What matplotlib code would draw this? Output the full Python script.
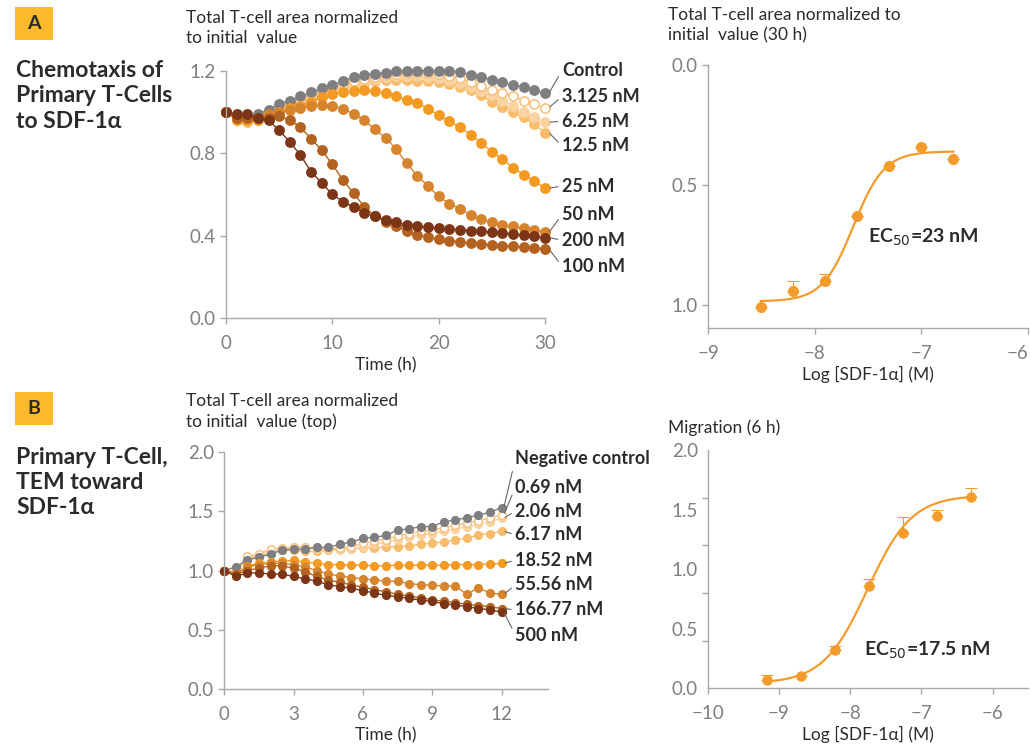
import matplotlib
matplotlib.use('Agg')
import matplotlib.pyplot as plt
import numpy as np

plt.rcParams['font.family'] = ['Lato', 'DejaVu Sans']

# ---- Panel A: chemotaxis time course (hours 0..30) ----
time_a = list(range(31))
a_labels = ['Control', '3.125 nM', '6.25 nM', '12.5 nM', '25 nM', '50 nM', '200 nM', '100 nM']
a_series = {
    'Control':  [1.00, 0.97, 0.97, 0.99, 1.01, 1.04, 1.055, 1.075, 1.095, 1.115, 1.13, 1.15, 1.17, 1.18, 1.185, 1.19,
                 1.20, 1.20, 1.20, 1.20, 1.20, 1.20, 1.195, 1.18, 1.17, 1.155, 1.145, 1.13, 1.12, 1.105, 1.09],
    '3.125 nM': [1.00, 0.97, 0.96, 0.98, 1.00, 1.02, 1.04, 1.06, 1.08, 1.10, 1.12, 1.135, 1.15, 1.16, 1.17, 1.18,
                 1.185, 1.19, 1.19, 1.19, 1.185, 1.175, 1.165, 1.145, 1.125, 1.105, 1.09, 1.075, 1.055, 1.04, 1.02],
    '6.25 nM':  [1.00, 0.96, 0.96, 0.97, 0.99, 1.01, 1.03, 1.05, 1.07, 1.09, 1.11, 1.13, 1.14, 1.15, 1.16, 1.17,
                 1.175, 1.175, 1.175, 1.17, 1.165, 1.155, 1.14, 1.12, 1.10, 1.08, 1.055, 1.03, 1.00, 0.975, 0.95],
    '12.5 nM':  [1.00, 0.96, 0.95, 0.96, 0.98, 1.00, 1.02, 1.04, 1.06, 1.08, 1.10, 1.115, 1.13, 1.14, 1.15, 1.155,
                 1.155, 1.155, 1.15, 1.15, 1.145, 1.135, 1.12, 1.105, 1.08, 1.05, 1.025, 1.00, 0.975, 0.94, 0.90],
    '25 nM':    [1.00, 0.96, 0.96, 0.96, 0.98, 1.00, 1.02, 1.03, 1.05, 1.07, 1.085, 1.095, 1.10, 1.105, 1.10, 1.09,
                 1.075, 1.06, 1.045, 1.015, 0.985, 0.955, 0.925, 0.89, 0.85, 0.805, 0.77, 0.73, 0.695, 0.665, 0.63],
    '50 nM':    [1.00, 0.97, 0.97, 0.97, 0.99, 1.00, 1.01, 1.02, 1.03, 1.035, 1.03, 1.015, 0.99, 0.96, 0.915, 0.875,
                 0.82, 0.75, 0.69, 0.64, 0.59, 0.555, 0.53, 0.50, 0.48, 0.465, 0.452, 0.444, 0.436, 0.428, 0.415],
    '200 nM':   [1.00, 0.99, 0.99, 0.97, 0.96, 0.91, 0.855, 0.79, 0.71, 0.655, 0.60, 0.565, 0.538, 0.51, 0.493, 0.476,
                 0.464, 0.452, 0.444, 0.44, 0.436, 0.432, 0.428, 0.424, 0.42, 0.416, 0.412, 0.408, 0.402, 0.396, 0.39],
    '100 nM':   [1.00, 0.97, 0.97, 0.97, 0.97, 0.98, 0.96, 0.925, 0.87, 0.815, 0.745, 0.67, 0.605, 0.54, 0.495, 0.468,
                 0.447, 0.42, 0.404, 0.392, 0.383, 0.375, 0.37, 0.365, 0.36, 0.355, 0.35, 0.347, 0.344, 0.34, 0.336],
}
a_label_y = [1.20, 1.075, 0.955, 0.835, 0.64, 0.50, 0.378, 0.252]

# ---- Panel A: dose response at 30 h ----
a_logc = [-8.505, -8.204, -7.903, -7.602, -7.301, -7.000, -6.699]
a_resp = [1.007, 0.94, 0.90, 0.63, 0.42, 0.34, 0.39]
a_err = [0.0, 0.04, 0.03, 0.0, 0.0, 0.0, 0.0]
a_fit = dict(top=0.36, bottom=0.985, logec50=-7.638, hill=3.0)

# ---- Panel B: TEM time course (hours 0..12) ----
time_b = [i * 0.5 for i in range(25)]
b_labels = ['Negative control', '0.69 nM', '2.06 nM', '6.17 nM', '18.52 nM', '55.56 nM', '166.77 nM', '500 nM']
b_series = {
    'Negative control': [1.00, 1.03, 1.09, 1.11, 1.14, 1.17, 1.18, 1.18, 1.195, 1.195, 1.22, 1.24, 1.27, 1.28, 1.295,
                         1.34, 1.35, 1.37, 1.37, 1.41, 1.425, 1.445, 1.465, 1.49, 1.53],
    '0.69 nM':   [1.00, 1.00, 1.12, 1.14, 1.18, 1.19, 1.20, 1.20, 1.19, 1.18, 1.19, 1.20, 1.23, 1.25, 1.26, 1.29, 1.31,
                  1.33, 1.34, 1.36, 1.38, 1.40, 1.42, 1.44, 1.47],
    '2.06 nM':   [1.00, 0.99, 1.11, 1.13, 1.17, 1.18, 1.19, 1.19, 1.18, 1.17, 1.17, 1.18, 1.20, 1.22, 1.24, 1.26, 1.28,
                  1.30, 1.31, 1.33, 1.35, 1.37, 1.39, 1.41, 1.44],
    '6.17 nM':   [1.00, 0.99, 1.10, 1.12, 1.15, 1.17, 1.17, 1.16, 1.16, 1.17, 1.18, 1.18, 1.19, 1.19, 1.20, 1.20, 1.21,
                  1.22, 1.23, 1.24, 1.26, 1.27, 1.30, 1.31, 1.33],
    '18.52 nM':  [1.00, 0.97, 1.04, 1.06, 1.07, 1.08, 1.085, 1.07, 1.06, 1.05, 1.05, 1.045, 1.045, 1.04, 1.04, 1.045,
                  1.045, 1.045, 1.045, 1.045, 1.05, 1.05, 1.05, 1.055, 1.06],
    '55.56 nM':  [1.00, 0.97, 1.03, 1.05, 1.06, 1.06, 1.05, 1.03, 1.00, 0.97, 0.955, 0.94, 0.93, 0.92, 0.91, 0.91, 0.89,
                  0.88, 0.875, 0.87, 0.87, 0.80, 0.855, 0.81, 0.80],
    '166.77 nM': [1.00, 0.97, 1.00, 1.02, 1.04, 1.04, 1.02, 0.99, 0.95, 0.92, 0.90, 0.88, 0.86, 0.84, 0.82, 0.80, 0.785,
                  0.77, 0.755, 0.74, 0.73, 0.715, 0.705, 0.695, 0.68],
    '500 nM':    [1.00, 0.95, 0.98, 0.98, 0.97, 0.97, 0.95, 0.93, 0.91, 0.88, 0.865, 0.85, 0.83, 0.81, 0.79, 0.78, 0.765,
                  0.75, 0.74, 0.72, 0.71, 0.695, 0.68, 0.67, 0.65],
}
b_label_y = [1.94, 1.70, 1.50, 1.30, 1.088, 0.878, 0.668, 0.457]

# ---- Panel B: dose response at 6 h ----
b_logc = [-9.161, -8.686, -8.210, -7.732, -7.255, -6.778, -6.301]
b_resp = [0.07, 0.106, 0.322, 0.86, 1.30, 1.446, 1.608]
b_err = [0.045, 0.0, 0.036, 0.058, 0.14, 0.05, 0.07]
b_fit = dict(top=1.62, bottom=0.04, logec50=-7.757, hill=1.4)

# colours and fills
colors = {
    'Control': '#7f7f81', '3.125 nM': '#f7c27f', '6.25 nM': '#fad3a0', '12.5 nM': '#f8bd6c',
    '25 nM': '#f29a22', '50 nM': '#d6842e', '200 nM': '#7c3516', '100 nM': '#b3621f',
    'Negative control': '#7f7f81', '0.69 nM': '#f7c27f', '2.06 nM': '#fad3a0', '6.17 nM': '#f8bd6c',
    '18.52 nM': '#f29a22', '55.56 nM': '#d6842e', '166.77 nM': '#b3621f', '500 nM': '#7c3516',
}
open_marker = ['3.125 nM', '0.69 nM']
draw_order_a = ['12.5 nM', '6.25 nM', '3.125 nM', 'Control', '25 nM', '50 nM', '100 nM', '200 nM']
draw_order_b = ['6.17 nM', '2.06 nM', '0.69 nM', 'Negative control', '18.52 nM', '55.56 nM', '166.77 nM', '500 nM']

spine_c = '#a8a8a8'
tick_c = '#7f7f7f'
text_c = '#2b2b2b'
curve_c = '#f39c2b'


def style_axes(ax):
    for s in ['top', 'right']:
        ax.spines[s].set_visible(False)
    for s in ['left', 'bottom']:
        ax.spines[s].set_color(spine_c)
        ax.spines[s].set_linewidth(1.0)
    ax.tick_params(colors=spine_c, labelcolor=tick_c, labelsize=13.5, length=4, width=1.0)
    ax.tick_params(axis='x', pad=8)


def sigmoid(x, top, bottom, logec50, hill):
    return bottom + (top - bottom) / (1 + 10 ** ((logec50 - x) * hill))


fig = plt.figure(figsize=(10.3, 7.45), dpi=100)

# ---------------- A left ----------------
ax1 = fig.add_axes([226/1030, 1-318/745, 319/1030, 247.3/745])
style_axes(ax1)
for name in draw_order_a:
    c = colors[name]
    face = 'white' if name in open_marker else c
    ax1.plot(time_a, a_series[name], '-o', color=c, mfc=face, mec=c, ms=6.6, mew=1.2, lw=1.0, clip_on=False)
ax1.set_xlim(0, 30)
ax1.set_ylim(0, 1.2)
ax1.set_xticks([0, 10, 20, 30])
ax1.set_yticks([0.0, 0.4, 0.8, 1.2])
ax1.yaxis.set_major_formatter(matplotlib.ticker.FormatStrFormatter('%.1f'))
for name, ly in zip(a_labels, a_label_y):
    ax1.annotate(name, xy=(30.35, a_series[name][-1]), xytext=(31.6, ly), textcoords='data',
                 ha='left', va='center', fontsize=13, fontweight='bold', color=text_c, annotation_clip=False,
                 arrowprops=dict(arrowstyle='-', color='#666666', lw=0.8, shrinkA=1, shrinkB=1, relpos=(0, 0.5)))
ax1.set_xlabel('Time (h)', fontsize=12.5, color=text_c, labelpad=4)

# ---------------- A right ----------------
ax2 = fig.add_axes([708/1030, 1-328.3/745, 320/1030, 263.3/745])
style_axes(ax2)
xf = np.linspace(a_logc[0], a_logc[-1], 200)
ax2.plot(xf, sigmoid(xf, **a_fit), color=curve_c, lw=1.6)
ax2.errorbar(a_logc, a_resp, yerr=[a_err, [0]*len(a_err)], fmt='o', color=curve_c, ms=7, ecolor=curve_c,
             elinewidth=0.8, capsize=4, capthick=0.8, clip_on=False)
ax2.set_xlim(-9, -6)
ax2.set_ylim(1.097, 0)
ax2.set_xticks([-9, -8, -7, -6])
ax2.set_yticks([0.0, 0.5, 1.0])
ax2.yaxis.set_major_formatter(matplotlib.ticker.FormatStrFormatter('%.1f'))
ax2.get_xticklabels()[-1].set_horizontalalignment('right')
ax2.text(-7.5, 0.717, 'EC$_{50}$=23 nM', fontsize=14, fontweight='bold', color=text_c, va='center', ha='left')
ax2.set_xlabel('Log [SDF-1\u03b1] (M)', fontsize=12.5, color=text_c, labelpad=3)

# ---------------- B left ----------------
ax3 = fig.add_axes([224.3/1030, 1-689.3/745, 323.4/1030, 237.6/745])
style_axes(ax3)
for name in draw_order_b:
    c = colors[name]
    face = 'white' if name in open_marker else c
    ax3.plot(time_b, b_series[name], '-o', color=c, mfc=face, mec=c, ms=5.5, mew=1.1, lw=1.0, clip_on=False)
ax3.set_xlim(0, 14)
ax3.set_ylim(0, 2.0)
ax3.set_xticks([0, 3, 6, 9, 12])
ax3.set_yticks([0.0, 0.5, 1.0, 1.5, 2.0])
ax3.yaxis.set_major_formatter(matplotlib.ticker.FormatStrFormatter('%.1f'))
for name, ly in zip(b_labels, b_label_y):
    ax3.annotate(name, xy=(12.1, b_series[name][-1]), xytext=(12.6, ly), textcoords='data',
                 ha='left', va='center', fontsize=13, fontweight='bold', color=text_c, annotation_clip=False,
                 arrowprops=dict(arrowstyle='-', color='#666666', lw=0.8, shrinkA=1, shrinkB=1, relpos=(0, 0.5)))
ax3.set_xlabel('Time (h)', fontsize=12.5, color=text_c, labelpad=3)

# ---------------- B right ----------------
ax4 = fig.add_axes([707.7/1030, 1-688.3/745, 320.6/1030, 238.3/745])
style_axes(ax4)
xf = np.linspace(b_logc[0], b_logc[-1], 200)
ax4.plot(xf, sigmoid(xf, **b_fit), color=curve_c, lw=1.6)
ax4.errorbar(b_logc, b_resp, yerr=[[0]*len(b_err), b_err], fmt='o', color=curve_c, ms=6.5, ecolor=curve_c,
             elinewidth=0.8, capsize=4, capthick=0.8, clip_on=False)
ax4.set_xlim(-10, -5.5)
ax4.set_ylim(0, 2.0)
ax4.set_xticks([-10, -9, -8, -7, -6])
ax4.set_yticks([0.0, 0.5, 1.0, 1.5, 2.0])
ax4.set_yticks(np.arange(0, 2.01, 0.4), minor=True)
ax4.tick_params(axis='y', which='major', length=0, pad=7)
ax4.tick_params(axis='y', which='minor', length=4, width=1.0, colors=spine_c)
ax4.yaxis.set_major_formatter(matplotlib.ticker.FormatStrFormatter('%.1f'))
ax4.text(-7.806, 0.32, 'EC$_{50}$=17.5 nM', fontsize=14, fontweight='bold', color=text_c, va='center', ha='left')
ax4.set_xlabel('Log [SDF-1\u03b1] (M)', fontsize=12.5, color=text_c, labelpad=3)

# ---------------- titles and panel text ----------------
fig.text(186/1030, 1-10/745, 'Total T-cell area normalized\nto initial  value', fontsize=12.5, color=text_c,
         va='top', ha='left', linespacing=1.3)
fig.text(668/1030, 1-7/745, 'Total T-cell area normalized to\ninitial  value (30 h)', fontsize=12.5,
         color=text_c, va='top', ha='left', linespacing=1.3)
fig.text(186/1030, 1-393/745, 'Total T-cell area normalized\nto initial  value (top)', fontsize=12.5,
         color=text_c, va='top', ha='left', linespacing=1.3)
fig.text(668/1030, 1-428/745, 'Migration (6 h)', fontsize=12.5, color=text_c, va='center', ha='left')

for letter, ytop in [('A', 6.7), ('B', 392)]:
    fig.patches.append(matplotlib.patches.Rectangle((15/1030, 1-(ytop+33)/745), 38/1030, 33/745,
                                                    transform=fig.transFigure, facecolor='#fbb92b',
                                                    edgecolor='none'))
    fig.text(34/1030, 1-(ytop+16.5)/745, letter, fontsize=14, fontweight='bold', color=text_c,
             ha='center', va='center')

fig.text(16/1030, 1-60/745, 'Chemotaxis of\nPrimary T-Cells\nto SDF-1\u03b1', fontsize=16.5, fontweight='bold',
         color=text_c, va='top', ha='left', linespacing=1.25)
fig.text(16/1030, 1-447/745, 'Primary T-Cell,\nTEM toward\nSDF-1\u03b1', fontsize=16.5, fontweight='bold',
         color=text_c, va='top', ha='left', linespacing=1.25)

fig.savefig('out.png', dpi=100)
